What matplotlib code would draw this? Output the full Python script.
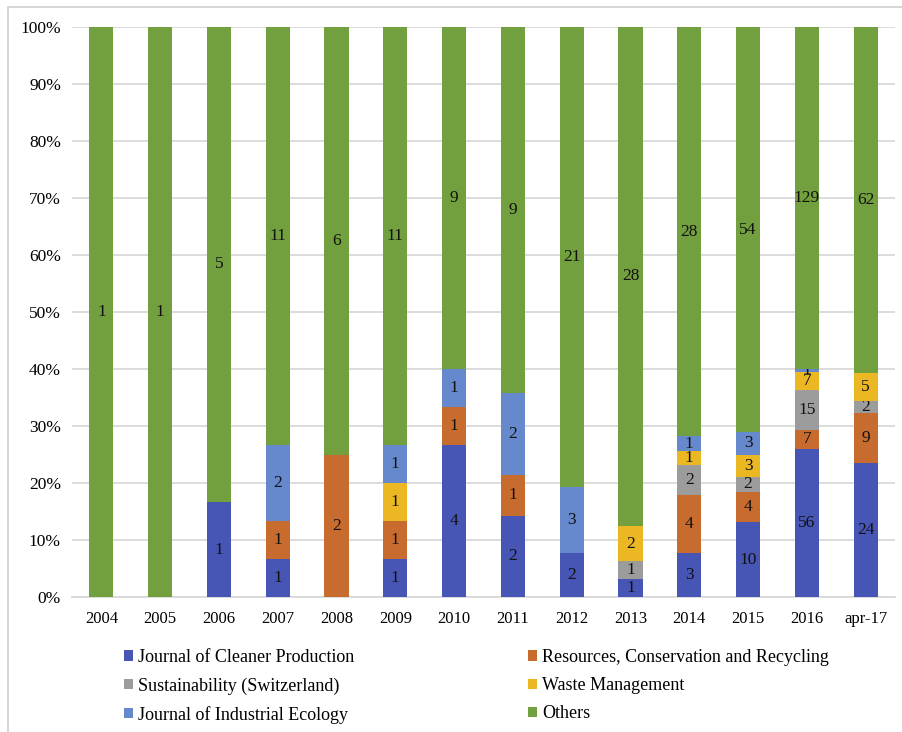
import numpy as np
import matplotlib
import matplotlib.pyplot as plt
from matplotlib.patches import Rectangle

matplotlib.use('Agg')
plt.rcParams['font.family'] = ['Liberation Serif', 'DejaVu Serif']

years = ['2004', '2005', '2006', '2007', '2008', '2009', '2010',
         '2011', '2012', '2013', '2014', '2015', '2016', 'apr-17']

# number of papers per journal and year
cleaner_prod = [0, 0, 1, 1, 0, 1, 4, 2, 2, 1, 3, 10, 56, 24]
resources_cr = [0, 0, 0, 1, 2, 1, 1, 1, 0, 0, 4, 4, 7, 9]
sustainability = [0, 0, 0, 0, 0, 0, 0, 0, 0, 1, 2, 2, 15, 2]
waste_mgmt = [0, 0, 0, 0, 0, 1, 0, 0, 0, 2, 1, 3, 7, 5]
industrial_eco = [0, 0, 0, 2, 0, 1, 1, 2, 3, 0, 1, 3, 1, 0]
others = [1, 1, 5, 11, 6, 11, 9, 9, 21, 28, 28, 54, 129, 62]

series = [
    ('Journal of Cleaner Production', cleaner_prod, '#4756B5'),
    ('Resources, Conservation and Recycling', resources_cr, '#C86B2E'),
    ('Sustainability (Switzerland)', sustainability, '#9C9C9C'),
    ('Waste Management', waste_mgmt, '#EBB823'),
    ('Journal of Industrial Ecology', industrial_eco, '#6689CD'),
    ('Others', others, '#72A03E'),
]

counts = np.array([s[1] for s in series], dtype=float)
totals = counts.sum(axis=0)
shares = counts / totals

fig = plt.figure(figsize=(9.02, 7.32), dpi=100)
W, H = 902, 732
ax = fig.add_axes([72 / W, 1 - 597 / H, (895 - 72) / W, (597 - 27) / H])

# thin frame around the chart
fig.patches.append(Rectangle((8 / W, -0.1), 1.1, 1 - 7 / H + 0.1, transform=fig.transFigure,
                             fill=False, edgecolor='#D0D0D0', linewidth=1.2))

x = np.arange(len(years))
bottom = np.zeros(len(years))
handles = []
for (name, vals, color), frac in zip(series, shares):
    bars = ax.bar(x, frac, 0.41, bottom=bottom, color=color, label=name, zorder=3)
    labels = [str(v) if v > 0 else '' for v in vals]
    ax.bar_label(bars, labels=labels, label_type='center', fontsize=12.5, color='#111111')
    bottom += frac
    handles.append(bars)

ax.set_xlim(-0.5, len(years) - 0.5)
ax.set_ylim(0, 1)
ax.set_xticks(x)
ax.set_xticklabels(years, fontsize=12)
ax.set_yticks(np.linspace(0, 1, 11))
ax.set_yticklabels([f'{int(v)}%' for v in np.linspace(0, 100, 11)], fontsize=12.5)
ax.tick_params(axis='x', length=0, pad=10)
ax.tick_params(axis='y', length=0, pad=8)
ax.grid(axis='y', color='#D9D9D9', linewidth=1.3, zorder=0)
for side in ['top', 'right', 'left']:
    ax.spines[side].set_visible(False)
ax.spines['bottom'].set_color('#D9D9D9')
ax.spines['bottom'].set_linewidth(1.3)

# legend is filled row by row: reorder so columns come out as in two pairs
order = [0, 2, 4, 1, 3, 5]
fig.legend(handles=[handles[i] for i in order], loc='upper left',
           bbox_to_anchor=(124 / W, 1 - 649 / H),
           ncol=2, frameon=False, fontsize=13, handlelength=0.5, handleheight=0.5,
           handletextpad=0.3, columnspacing=9.6, labelspacing=0.62, borderaxespad=0,
           borderpad=0)

fig.savefig('out.png', dpi=100)
